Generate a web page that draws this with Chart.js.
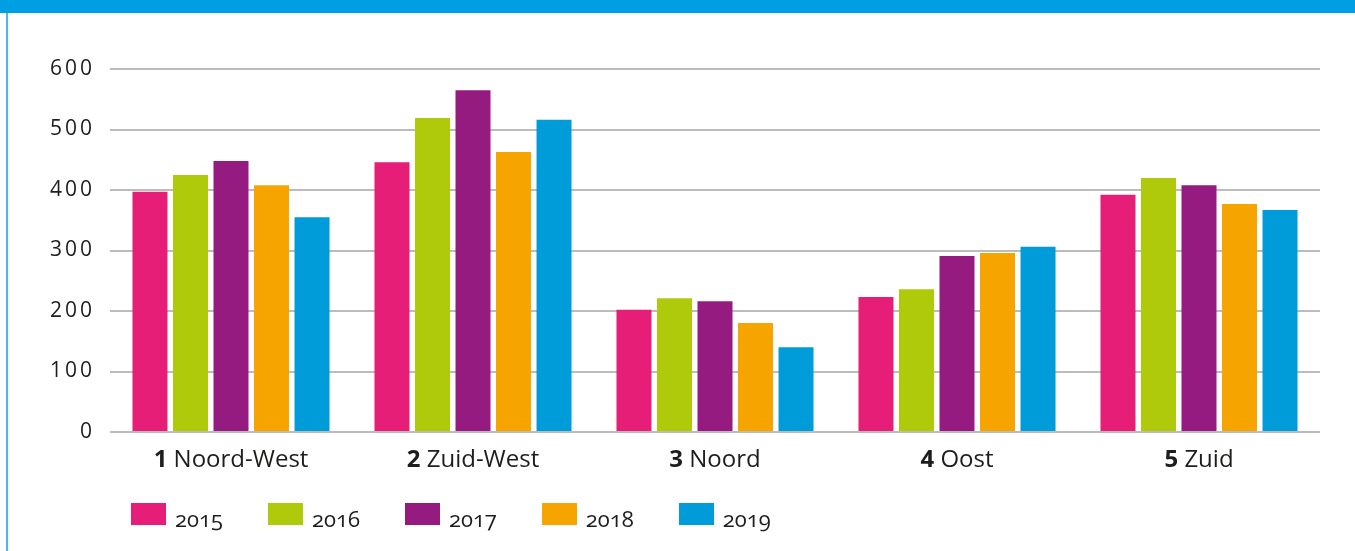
<!DOCTYPE html>
<html>
<head>
<meta charset="utf-8">
<script src="https://cdn.jsdelivr.net/npm/chart.js@4"></script>
<style>
  html, body { margin: 0; padding: 0; background: #ffffff; }
  body { width: 1355px; height: 551px; position: relative; overflow: hidden; font-family: "Open Sans", "Noto Sans", sans-serif; }
  #header { position: absolute; left: 0; top: 0; width: 1355px; height: 13px; background: #009FE3; }
  #leftline { position: absolute; left: 6px; top: 13px; width: 2px; height: 538px; background: #4DB8E8; }
  #chartwrap { position: absolute; left: 0; top: 0; width: 1355px; height: 551px; }
  #legend { position: absolute; left: 131px; top: 503px; display: flex; gap: 45px; }
  .item { display: flex; align-items: flex-start; }
  .box { width: 35px; height: 22px; }
  .lbl { margin-left: 9px; font-size: 22px; line-height: 22px; color: #1d1d1b; padding-top: 4px; font-variant-numeric: oldstyle-nums; }
</style>
</head>
<body>
<div id="chartwrap"><canvas id="c" width="1355" height="551"></canvas></div>
<div id="header"></div>
<div id="leftline"></div>
<div id="legend"></div>
<script>
// ---- data ----
const regionNumbers = ['1', '2', '3', '4', '5'];
const categories = ['Noord-West', 'Zuid-West', 'Noord', 'Oost', 'Zuid'];
const years = ['2015', '2016', '2017', '2018', '2019'];
const values2015 = [397, 446, 202, 223, 392];
const values2016 = [425, 519, 221, 236, 420];
const values2017 = [448, 565, 216, 291, 408];
const values2018 = [408, 463, 180, 296, 377];
const values2019 = [355, 516, 140, 306, 367];
const yTickValues = [0, 100, 200, 300, 400, 500, 600];
const seriesColors = ['#E61E78', '#AFCA0B', '#951B81', '#F6A500', '#009CDA'];

const seriesValues = [values2015, values2016, values2017, values2018, values2019];

const datasets = years.map((y, i) => ({
  label: y,
  data: seriesValues[i],
  backgroundColor: seriesColors[i],
  borderWidth: 0,
  categoryPercentage: 0.837,
  barPercentage: 0.864
}));

const spacingPlugin = {
  id: 'tickSpacing',
  beforeDraw(chart) { chart.ctx.letterSpacing = '3px'; },
  beforeDatasetsDraw(chart) { chart.ctx.letterSpacing = '0px'; }
};

const xLabelPlugin = {
  id: 'xLabels',
  afterDraw(chart) {
    const ctx = chart.ctx;
    const xs = chart.scales.x;
    const baseY = chart.chartArea.bottom + 35;
    ctx.save();
    ctx.letterSpacing = '0px';
    ctx.fillStyle = '#1d1d1b';
    ctx.textBaseline = 'alphabetic';
    ctx.textAlign = 'left';
    const boldFont = 'bold 24px "Open Sans"';
    const normFont = '24px "Open Sans"';
    categories.forEach((name, i) => {
      const cx = xs.getPixelForValue(i);
      ctx.font = boldFont;
      const wn = ctx.measureText(regionNumbers[i]).width;
      ctx.font = normFont;
      const ws = ctx.measureText(' ').width;
      const wt = ctx.measureText(name).width;
      const total = wn + ws + wt;
      const x0 = cx - total / 2;
      ctx.font = boldFont;
      ctx.fillText(regionNumbers[i], x0, baseY);
      ctx.font = normFont;
      ctx.fillText(name, x0 + wn + ws, baseY);
    });
    ctx.restore();
  }
};

new Chart(document.getElementById('c'), {
  type: 'bar',
  data: { labels: categories.map((c, i) => regionNumbers[i] + ' ' + c), datasets },
  options: {
    responsive: false,
    animation: false,
    devicePixelRatio: 1,
    layout: { padding: { top: 69, right: 35, left: 0, bottom: 0 } },
    plugins: {
      legend: { display: false },
      tooltip: { enabled: false },
      title: { display: false }
    },
    scales: {
      x: {
        grid: { display: false },
        border: { display: false },
        ticks: { display: false },
        afterFit(scale) { scale.height = 119; }
      },
      y: {
        min: 0,
        max: 600,
        afterBuildTicks(scale) { scale.ticks = yTickValues.map(v => ({ value: v })); },
        grid: { color: '#BCBCBC', lineWidth: 2, drawTicks: false },
        border: { display: false },
        ticks: {
          padding: 15,
          color: '#1d1d1b',
          font: { family: '"Open Sans"', size: 21 },
          callback: (v) => String(v)
        },
        afterFit(scale) { scale.width = 110; }
      }
    }
  },
  plugins: [spacingPlugin, xLabelPlugin]
});

// HTML legend built from the series arrays
const legend = document.getElementById('legend');
years.forEach((y, i) => {
  const item = document.createElement('div');
  item.className = 'item';
  const box = document.createElement('div');
  box.className = 'box';
  box.style.background = seriesColors[i];
  const lbl = document.createElement('div');
  lbl.className = 'lbl';
  lbl.textContent = y;
  item.appendChild(box);
  item.appendChild(lbl);
  legend.appendChild(item);
});
</script>
</body>
</html>
